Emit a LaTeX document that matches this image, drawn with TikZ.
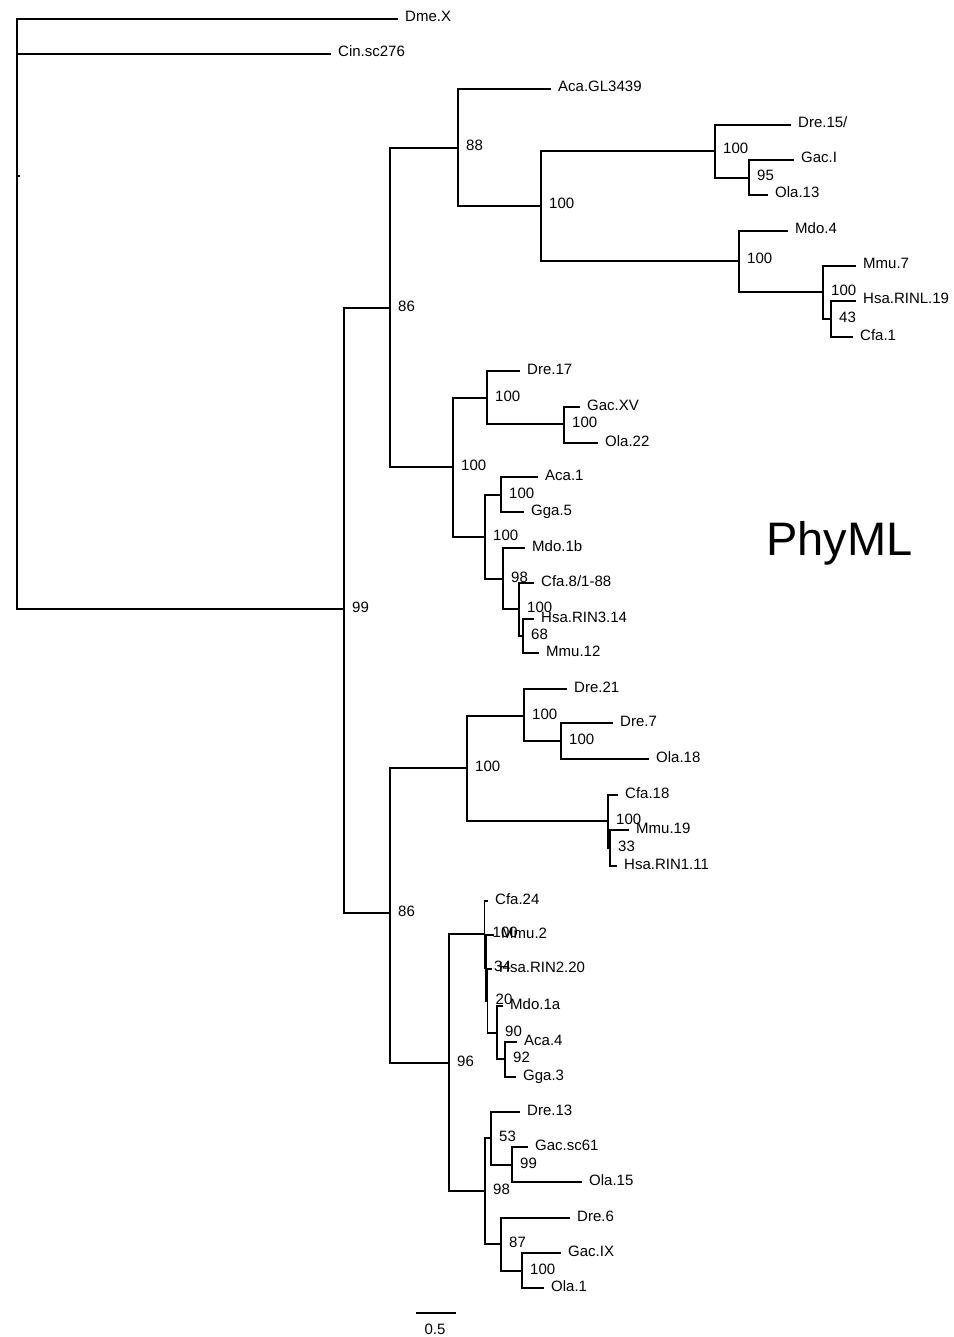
\documentclass[tikz,border=0pt]{standalone}
\usepackage{fontspec}
\setmainfont{Liberation Sans}
\begin{document}
\begin{tikzpicture}[x=1pt,y=-1pt,
  br/.style={line width=1.2pt,line cap=rect},
  leaf/.style={anchor=base west,inner sep=0pt,xshift=8pt,yshift=-3pt,font=\fontsize{15}{18}\selectfont},
  boot/.style={anchor=base west,inner sep=0pt,xshift=8pt,yshift=-3pt,font=\fontsize{15}{18}\selectfont}]
\useasboundingbox (0,0) rectangle (953,1337);
% ---------- internal nodes ----------
\coordinate (root) at (17,176);
\coordinate (n99) at (344,609);
\coordinate (n86a) at (390,308);
\coordinate (n88) at (458,148);
\coordinate (n100a) at (541,206);
\coordinate (n100b) at (715,151);
\coordinate (n95) at (749,178);
\coordinate (n100e) at (739,261);
\coordinate (n100f) at (823,292);
\coordinate (n43) at (831,319);
\coordinate (n100c) at (453,467);
\coordinate (n100g) at (487,398);
\coordinate (n100h) at (564,424);
\coordinate (n100i) at (485,537);
\coordinate (n100j) at (501,495);
\coordinate (n98a) at (503,579);
\coordinate (n100k) at (519,609);
\coordinate (n68) at (523,636);
\coordinate (n86b) at (390,913);
\coordinate (n100l) at (467,768);
\coordinate (n100m) at (524,716);
\coordinate (n100n) at (561,741);
\coordinate (n100o) at (608,821);
\coordinate (n33) at (610,848);
\coordinate (n96) at (449,1063);
\coordinate (n100p) at (484.5,934);
\coordinate (n34) at (486,968);
\coordinate (n20) at (487.5,1001);
\coordinate (n90) at (497,1033);
\coordinate (n92) at (505,1059);
\coordinate (n98b) at (485,1191);
\coordinate (n53) at (491,1138);
\coordinate (n99b) at (512,1165);
\coordinate (n87) at (501,1244);
\coordinate (n100q) at (522,1271);
% ---------- leaf tips ----------
\coordinate (tDme) at (397,19);
\coordinate (tCin) at (330,54);
\coordinate (tAcaGL) at (550,89);
\coordinate (tDre15) at (790,125);
\coordinate (tGacI) at (793,160);
\coordinate (tOla13) at (767,195);
\coordinate (tMdo4) at (787,231);
\coordinate (tMmu7) at (855,266);
\coordinate (tHsaRINL) at (855,301);
\coordinate (tCfa1) at (852,337);
\coordinate (tDre17) at (519,371);
\coordinate (tGacXV) at (579,407);
\coordinate (tOla22) at (597,443);
\coordinate (tAca1) at (537,477);
\coordinate (tGga5) at (523,512);
\coordinate (tMdo1b) at (524,548);
\coordinate (tCfa8) at (533,583);
\coordinate (tHsaRIN3) at (533,619);
\coordinate (tMmu12) at (538,653);
\coordinate (tDre21) at (566,689);
\coordinate (tDre7) at (612,723);
\coordinate (tOla18) at (648,759);
\coordinate (tCfa18) at (617,795);
\coordinate (tMmu19) at (628,830);
\coordinate (tHsaRIN1) at (616,866);
\coordinate (tCfa24) at (487,901);
\coordinate (tMmu2) at (493,935);
\coordinate (tHsaRIN2) at (491,969);
\coordinate (tMdo1a) at (502,1006);
\coordinate (tAca4) at (516,1042);
\coordinate (tGga3) at (515,1077);
\coordinate (tDre13) at (519,1112);
\coordinate (tGacsc61) at (527,1147);
\coordinate (tOla15) at (581,1182);
\coordinate (tDre6) at (569,1218);
\coordinate (tGacIX) at (560,1253);
\coordinate (tOla1) at (543,1288);
% ---------- branches ----------
\draw[br] (root) -- ++(2,0);
\draw[br] (root) |- (tDme);
\draw[br] (root) |- (tCin);
\draw[br] (root) |- (n99);
\draw[br] (n99) |- (n86a);
\draw[br] (n99) |- (n86b);
\draw[br] (n86a) |- (n88);
\draw[br] (n86a) |- (n100c);
\draw[br] (n88) |- (tAcaGL);
\draw[br] (n88) |- (n100a);
\draw[br] (n100a) |- (n100b);
\draw[br] (n100a) |- (n100e);
\draw[br] (n100b) |- (tDre15);
\draw[br] (n100b) |- (n95);
\draw[br] (n95) |- (tGacI);
\draw[br] (n95) |- (tOla13);
\draw[br] (n100e) |- (tMdo4);
\draw[br] (n100e) |- (n100f);
\draw[br] (n100f) |- (tMmu7);
\draw[br] (n100f) |- (n43);
\draw[br] (n43) |- (tHsaRINL);
\draw[br] (n43) |- (tCfa1);
\draw[br] (n100c) |- (n100g);
\draw[br] (n100c) |- (n100i);
\draw[br] (n100g) |- (tDre17);
\draw[br] (n100g) |- (n100h);
\draw[br] (n100h) |- (tGacXV);
\draw[br] (n100h) |- (tOla22);
\draw[br] (n100i) |- (n100j);
\draw[br] (n100i) |- (n98a);
\draw[br] (n100j) |- (tAca1);
\draw[br] (n100j) |- (tGga5);
\draw[br] (n98a) |- (tMdo1b);
\draw[br] (n98a) |- (n100k);
\draw[br] (n100k) |- (tCfa8);
\draw[br] (n100k) |- (n68);
\draw[br] (n68) |- (tHsaRIN3);
\draw[br] (n68) |- (tMmu12);
\draw[br] (n86b) |- (n100l);
\draw[br] (n86b) |- (n96);
\draw[br] (n100l) |- (n100m);
\draw[br] (n100l) |- (n100o);
\draw[br] (n100m) |- (tDre21);
\draw[br] (n100m) |- (n100n);
\draw[br] (n100n) |- (tDre7);
\draw[br] (n100n) |- (tOla18);
\draw[br] (n100o) |- (tCfa18);
\draw[br] (n100o) |- (n33);
\draw[br] (n33) |- (tMmu19);
\draw[br] (n33) |- (tHsaRIN1);
\draw[br] (n96) |- (n100p);
\draw[br] (n96) |- (n98b);
\draw[br] (n100p) |- (tCfa24);
\draw[br] (n100p) |- (n34);
\draw[br] (n34) |- (tMmu2);
\draw[br] (n34) |- (n20);
\draw[br] (n20) |- (tHsaRIN2);
\draw[br] (n20) |- (n90);
\draw[br] (n90) |- (tMdo1a);
\draw[br] (n90) |- (n92);
\draw[br] (n92) |- (tAca4);
\draw[br] (n92) |- (tGga3);
\draw[br] (n98b) |- (n53);
\draw[br] (n98b) |- (n87);
\draw[br] (n53) |- (tDre13);
\draw[br] (n53) |- (n99b);
\draw[br] (n99b) |- (tGacsc61);
\draw[br] (n99b) |- (tOla15);
\draw[br] (n87) |- (tDre6);
\draw[br] (n87) |- (n100q);
\draw[br] (n100q) |- (tGacIX);
\draw[br] (n100q) |- (tOla1);
% ---------- leaf labels ----------
\node[leaf] (lDme) at (tDme) {Dme.X};
\node[leaf] (lCin) at (tCin) {Cin.sc276};
\node[leaf] (lAcaGL) at (tAcaGL) {Aca.GL3439};
\node[leaf] (lDre15) at (tDre15) {Dre.15/};
\node[leaf] (lGacI) at (tGacI) {Gac.I};
\node[leaf] (lOla13) at (tOla13) {Ola.13};
\node[leaf] (lMdo4) at (tMdo4) {Mdo.4};
\node[leaf] (lMmu7) at (tMmu7) {Mmu.7};
\node[leaf] (lHsaRINL) at (tHsaRINL) {Hsa.RINL.19};
\node[leaf] (lCfa1) at (tCfa1) {Cfa.1};
\node[leaf] (lDre17) at (tDre17) {Dre.17};
\node[leaf] (lGacXV) at (tGacXV) {Gac.XV};
\node[leaf] (lOla22) at (tOla22) {Ola.22};
\node[leaf] (lAca1) at (tAca1) {Aca.1};
\node[leaf] (lGga5) at (tGga5) {Gga.5};
\node[leaf] (lMdo1b) at (tMdo1b) {Mdo.1b};
\node[leaf] (lCfa8) at (tCfa8) {Cfa.8/1-88};
\node[leaf] (lHsaRIN3) at (tHsaRIN3) {Hsa.RIN3.14};
\node[leaf] (lMmu12) at (tMmu12) {Mmu.12};
\node[leaf] (lDre21) at (tDre21) {Dre.21};
\node[leaf] (lDre7) at (tDre7) {Dre.7};
\node[leaf] (lOla18) at (tOla18) {Ola.18};
\node[leaf] (lCfa18) at (tCfa18) {Cfa.18};
\node[leaf] (lMmu19) at (tMmu19) {Mmu.19};
\node[leaf] (lHsaRIN1) at (tHsaRIN1) {Hsa.RIN1.11};
\node[leaf] (lCfa24) at (tCfa24) {Cfa.24};
\node[leaf] (lMmu2) at (tMmu2) {Mmu.2};
\node[leaf] (lHsaRIN2) at (tHsaRIN2) {Hsa.RIN2.20};
\node[leaf] (lMdo1a) at (tMdo1a) {Mdo.1a};
\node[leaf] (lAca4) at (tAca4) {Aca.4};
\node[leaf] (lGga3) at (tGga3) {Gga.3};
\node[leaf] (lDre13) at (tDre13) {Dre.13};
\node[leaf] (lGacsc61) at (tGacsc61) {Gac.sc61};
\node[leaf] (lOla15) at (tOla15) {Ola.15};
\node[leaf] (lDre6) at (tDre6) {Dre.6};
\node[leaf] (lGacIX) at (tGacIX) {Gac.IX};
\node[leaf] (lOla1) at (tOla1) {Ola.1};
% ---------- bootstrap values ----------
\node[boot] (b99) at (n99) {99};
\node[boot] (b86a) at (n86a) {86};
\node[boot] (b88) at (n88) {88};
\node[boot] (b100a) at (n100a) {100};
\node[boot] (b100b) at (n100b) {100};
\node[boot] (b95) at (n95) {95};
\node[boot] (b100e) at (n100e) {100};
\node[boot] (b100f) at (n100f) {100};
\node[boot] (b43) at (n43) {43};
\node[boot] (b100c) at (n100c) {100};
\node[boot] (b100g) at (n100g) {100};
\node[boot] (b100h) at (n100h) {100};
\node[boot] (b100i) at (n100i) {100};
\node[boot] (b100j) at (n100j) {100};
\node[boot] (b98a) at (n98a) {98};
\node[boot] (b100k) at (n100k) {100};
\node[boot] (b68) at (n68) {68};
\node[boot] (b86b) at (n86b) {86};
\node[boot] (b100l) at (n100l) {100};
\node[boot] (b100m) at (n100m) {100};
\node[boot] (b100n) at (n100n) {100};
\node[boot] (b100o) at (n100o) {100};
\node[boot] (b33) at (n33) {33};
\node[boot] (b96) at (n96) {96};
\node[boot] (b100p) at (n100p) {100};
\node[boot] (b34) at (n34) {34};
\node[boot] (b20) at (n20) {20};
\node[boot] (b90) at (n90) {90};
\node[boot] (b92) at (n92) {92};
\node[boot] (b98b) at (n98b) {98};
\node[boot] (b53) at (n53) {53};
\node[boot] (b99b) at (n99b) {99};
\node[boot] (b87) at (n87) {87};
\node[boot] (b100q) at (n100q) {100};
% ---------- title and scale bar ----------
\node[anchor=base west,inner sep=0pt,font=\fontsize{47}{56}\selectfont] (title) at (766,555) {PhyML};
\coordinate (s0) at (417,1313);
\coordinate (s1) at (455,1313);
\draw[br] (s0) -- (s1);
\node[anchor=base,inner sep=0pt,font=\fontsize{15}{18}\selectfont] (scale) at (435,1334) {0.5};
\end{tikzpicture}
\end{document}
